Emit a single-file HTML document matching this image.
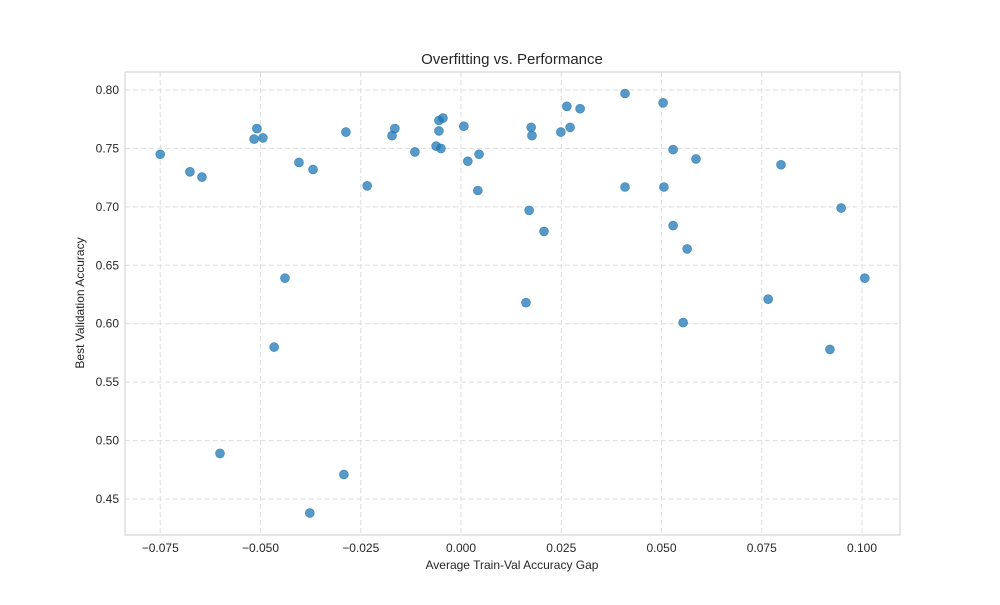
<!DOCTYPE html>
<html><head><meta charset="utf-8">
<style>
body{margin:0;background:#fff;font-family:"Liberation Sans",sans-serif;}
svg text{font-family:"Liberation Sans",sans-serif;fill:#262626;}
</style></head>
<body>
<svg width="1000" height="600" id="chart">
<rect width="1000" height="600" fill="#fff"/>
<text x="512" y="64" font-size="15" text-anchor="middle">Overfitting vs. Performance</text>
<text x="512" y="569" font-size="12" text-anchor="middle">Average Train-Val Accuracy Gap</text>
<text x="0" y="0" font-size="12" text-anchor="middle" transform="translate(84,303) rotate(-90)">Best Validation Accuracy</text>
<g id="grid"></g><g id="ticks"></g><g id="pts"></g>
<rect x="125" y="72" width="775" height="463" fill="none" stroke="#ccc" stroke-width="1"/>
</svg>
<script>
const xs=[-0.075,-0.0676,-0.0646,-0.0601,-0.0516,-0.0509,-0.0494,-0.0466,-0.0439,-0.0404,-0.0377,-0.0369,-0.0292,-0.0287,-0.0234,-0.0172,-0.0165,-0.0115,-0.0062,-0.0055,-0.0055,-0.0050,-0.0045,0.0007,0.0017,0.0042,0.0045,0.0162,0.0170,0.0175,0.0177,0.0207,0.0249,0.0264,0.0272,0.0297,0.0409,0.0409,0.0504,0.0506,0.0529,0.0529,0.0554,0.0564,0.0586,0.0766,0.0798,0.0920,0.0948,0.1007];
const ys=[0.745,0.730,0.7255,0.489,0.758,0.767,0.759,0.580,0.639,0.738,0.438,0.732,0.471,0.764,0.718,0.761,0.767,0.747,0.752,0.774,0.765,0.750,0.776,0.769,0.739,0.714,0.745,0.618,0.697,0.768,0.761,0.679,0.764,0.786,0.768,0.784,0.797,0.717,0.789,0.717,0.749,0.684,0.601,0.664,0.741,0.621,0.736,0.578,0.699,0.639];
const xTicks=[-0.075,-0.05,-0.025,0,0.025,0.05,0.075,0.1];
const xTickLabels=["\u22120.075","\u22120.050","\u22120.025","0.000","0.025","0.050","0.075","0.100"];
const yTicks=[0.45,0.5,0.55,0.6,0.65,0.7,0.75,0.8];
const yTickLabels=["0.45","0.50","0.55","0.60","0.65","0.70","0.75","0.80"];
const NS="http://www.w3.org/2000/svg";
function X(v){return 461+v*4010;}
function Y(v){return 90+(0.80-v)*1168.6;}
function mk(t,a,p){const e=document.createElementNS(NS,t);for(const k in a)e.setAttribute(k,a[k]);p.appendChild(e);return e;}
const g=document.getElementById('grid'),tk=document.getElementById('ticks'),pts=document.getElementById('pts');
xTicks.forEach((v,i)=>{
 const l=mk('line',{x1:X(v),x2:X(v),y1:72,y2:535,stroke:'#ddd','stroke-dasharray':'5,3'},g);
 
 
 const t=mk('text',{x:X(v),y:552,'font-size':12,'text-anchor':'middle'},tk);t.textContent=xTickLabels[i];
 
 
});
yTicks.forEach((v,i)=>{
 const l=mk('line',{x1:125,x2:900,y1:Y(v),y2:Y(v),stroke:'#ddd','stroke-dasharray':'5,3'},g);
 
 
 const t=mk('text',{x:119,y:Y(v)+4,'font-size':12,'text-anchor':'end'},tk);t.textContent=yTickLabels[i];
 
 
});
xs.forEach((v,i)=>{
 const c=mk('circle',{cx:X(v),cy:Y(ys[i]),r:4.5,fill:'#1f77b4','fill-opacity':0.75,stroke:'#1f77b4','stroke-opacity':0.8,'stroke-width':0.6},pts);
 
 
});
</script>
</body></html>
